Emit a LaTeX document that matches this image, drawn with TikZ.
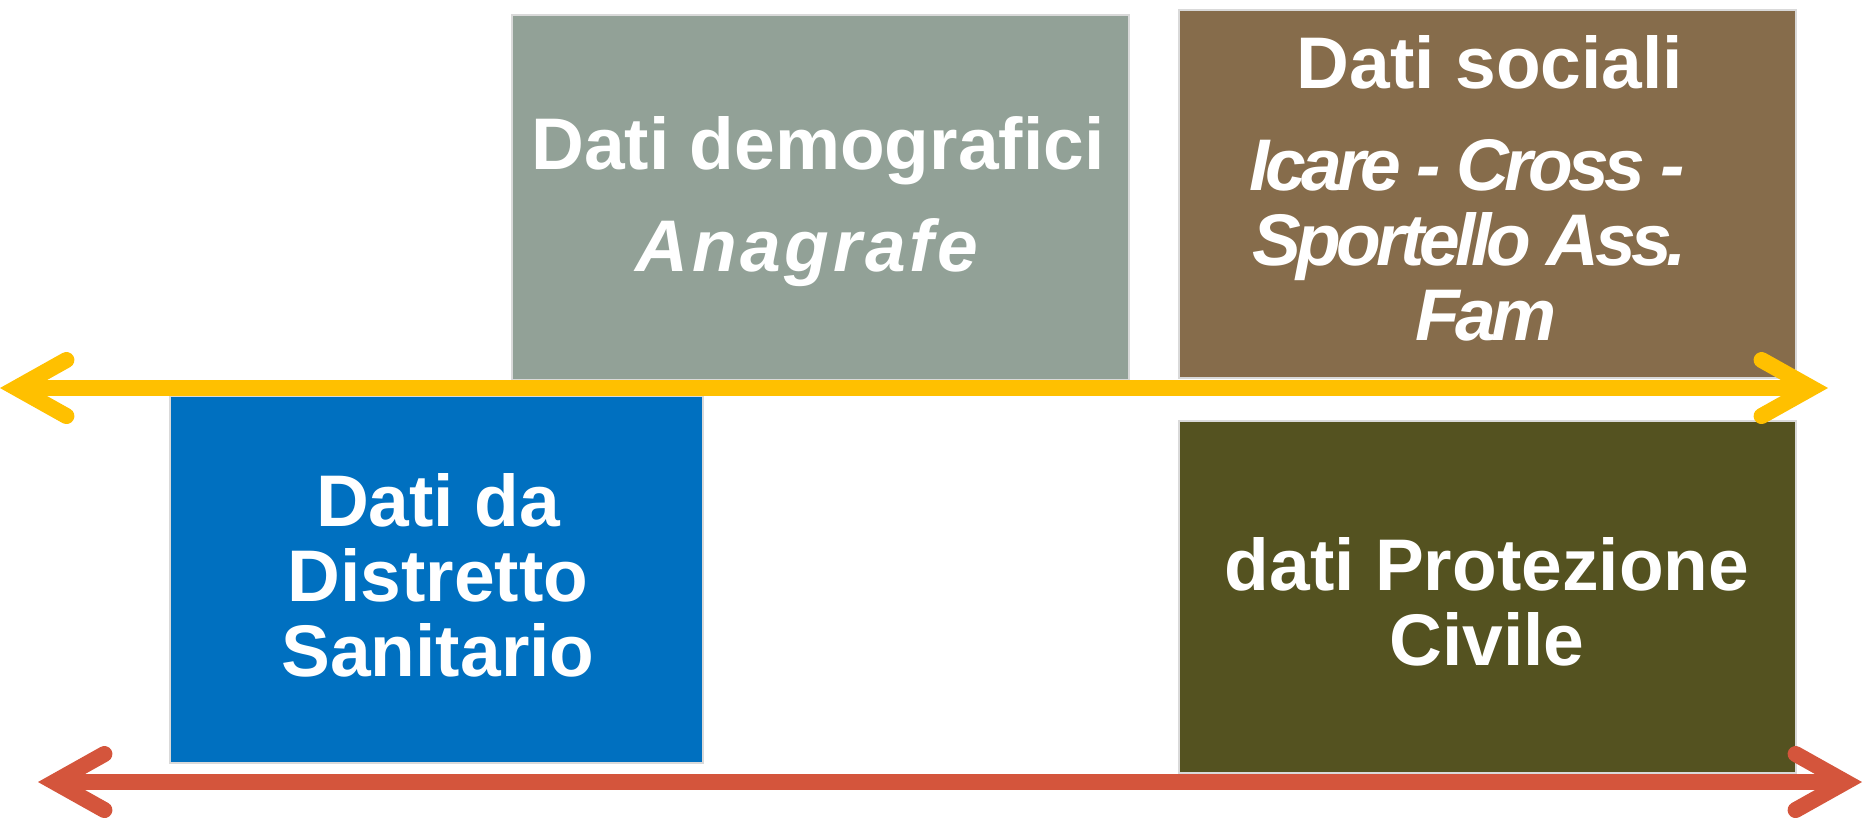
\documentclass[tikz,border=0pt]{standalone}
\usepackage{fontspec}
\setmainfont{Liberation Sans}
\usepackage{tikz}
\usetikzlibrary{arrows.meta}
\definecolor{anagray}{RGB}{146,161,151}
\definecolor{socbrown}{RGB}{134,108,75}
\definecolor{sanblue}{RGB}{0,112,192}
\definecolor{protolive}{RGB}{84,82,32}
\definecolor{axisyellow}{RGB}{255,192,0}
\definecolor{axisred}{RGB}{212,85,60}
\newcommand{\tightit}[1]{{\addfontfeature{LetterSpace=-6.5}\textit{#1}}}

\begin{document}
\begin{tikzpicture}[
  x=0.01cm, y=-0.01cm,
  box/.style={draw=black!15, line width=0.4pt, inner sep=0pt, outer sep=0pt},
  label/.style={text=white, align=center, anchor=base, inner sep=0pt,
                font=\bfseries\fontsize{20.8}{21.3}\selectfont},
  axis/.style={line width=0.16cm, line cap=round,
               {Straight Barb[length=5mm, width=5.6mm, line cap=round]}-{Straight Barb[length=5mm, width=5.6mm, line cap=round]}}
]
\useasboundingbox (0,0) rectangle (1863,817);

% boxes
\node[box, fill=anagray, minimum width=6.17cm, minimum height=3.65cm] (anag) at (820.5,197.5) {};
\node[box, fill=socbrown, minimum width=6.17cm, minimum height=3.68cm] (soc) at (1487.5,194) {};
\node[box, fill=sanblue, minimum width=5.33cm, minimum height=3.67cm] (san) at (436.5,579.5) {};
\node[box, fill=protolive, minimum width=6.17cm, minimum height=3.52cm] (prot) at (1487.5,597) {};

% texts (anchored on the last line)
\node[label] (anagtxt) at (818,271) {Dati demografici\\[7.7pt] {\addfontfeature{LetterSpace=5}\textit{Anagrafe}}\hspace*{0.18cm}};
\node[label] (soctxt) at (1490,340) {Dati sociali\\[7.7pt] \tightit{Icare - Cross -}\rule{0.5cm}{0pt}\\ \tightit{Sportello Ass.}\rule{0.45cm}{0pt}\\ \tightit{Fam}\hspace*{0.12cm}};
\node[label] (santxt) at (438,676) {Dati da\\ Distretto\\ Sanitario};
\node[label] (prottxt) at (1487,665) {dati Protezione\\ Civile};

% axes
\coordinate (yl) at (0,388);
\coordinate (yr) at (1828,388);
\coordinate (rl) at (38,782);
\coordinate (rr) at (1862,782);
\draw[axis, draw=axisyellow] (yl) -- (yr);
\draw[axis, draw=axisred] (rl) -- (rr);

\end{tikzpicture}
\end{document}
